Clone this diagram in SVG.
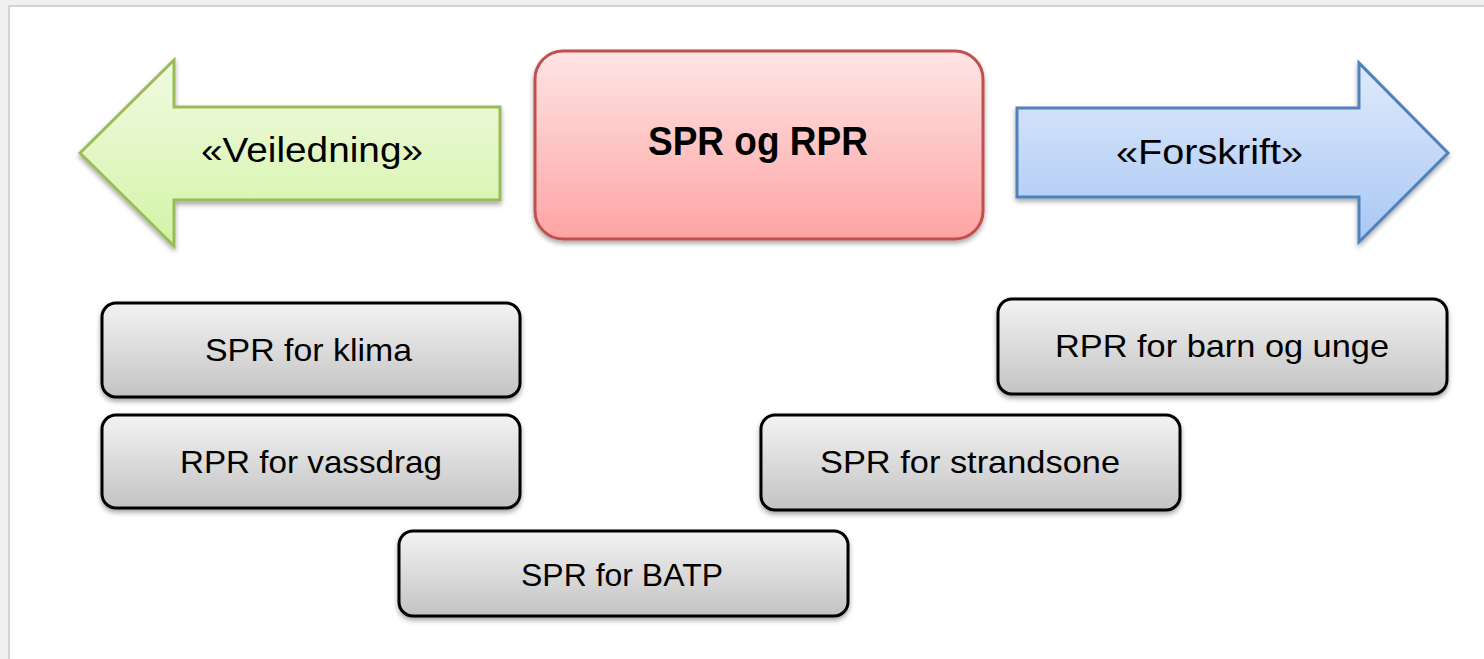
<svg xmlns="http://www.w3.org/2000/svg" width="1484" height="659" viewBox="0 0 1484 659">
  <defs>
    <linearGradient id="gGreen" x1="0" y1="0" x2="0" y2="1">
      <stop offset="0" stop-color="#f1fbe2"/>
      <stop offset="1" stop-color="#d3f3a6"/>
    </linearGradient>
    <linearGradient id="gBlue" x1="0" y1="0" x2="0" y2="1">
      <stop offset="0" stop-color="#dfeafb"/>
      <stop offset="1" stop-color="#a9c7f4"/>
    </linearGradient>
    <linearGradient id="gRed" x1="0" y1="0" x2="0" y2="1">
      <stop offset="0" stop-color="#fee5e5"/>
      <stop offset="1" stop-color="#fea4a3"/>
    </linearGradient>
    <linearGradient id="gGrey" x1="0" y1="0" x2="0" y2="1">
      <stop offset="0" stop-color="#f3f3f3"/>
      <stop offset="1" stop-color="#c3c3c3"/>
    </linearGradient>
    <filter id="shadow" x="-10%" y="-10%" width="120%" height="130%">
      <feDropShadow dx="0" dy="3" stdDeviation="2.5" flood-color="#000" flood-opacity="0.35"/>
    </filter>
  </defs>
  <style>
    .lbl { font-family: "Liberation Sans", Arial, sans-serif; fill: #000; text-anchor: middle; }
    .box { fill: url(#gGrey); stroke: #000; stroke-width: 3; filter: url(#shadow); }
    .small { font-size: 32px; }
    .arrowtxt { font-size: 35px; }
  </style>

  <rect x="0" y="0" width="1484" height="659" fill="#f0f0f0"/>
  <rect x="9" y="6" width="1480" height="660" fill="#ffffff" stroke="#d2d2d2" stroke-width="2"/>

  <g id="connectors"/>

  <g id="veiledning">
    <path d="M80,153 L174,60 L174,107 L500,107 L500,200 L174,200 L174,246 Z" fill="url(#gGreen)" stroke="#9bbb59" stroke-width="3" stroke-linejoin="miter" filter="url(#shadow)"/>
    <text class="lbl arrowtxt" x="312" y="162" textLength="222" lengthAdjust="spacingAndGlyphs">«Veiledning»</text>
  </g>

  <g id="spr-og-rpr">
    <rect x="535" y="51" width="448" height="188" rx="28" ry="28" fill="url(#gRed)" stroke="#c0504d" stroke-width="3" filter="url(#shadow)"/>
    <text class="lbl" x="758" y="155" font-size="40" font-weight="bold" textLength="220" lengthAdjust="spacingAndGlyphs">SPR og RPR</text>
  </g>

  <g id="forskrift">
    <path d="M1017,108 L1359,108 L1359,63 L1448,153 L1359,242 L1359,197 L1017,197 Z" fill="url(#gBlue)" stroke="#4f81bd" stroke-width="3" filter="url(#shadow)"/>
    <text class="lbl arrowtxt" x="1209.5" y="164" textLength="187" lengthAdjust="spacingAndGlyphs">«Forskrift»</text>
  </g>

  <g id="spr-klima">
    <rect class="box" x="102" y="303" width="418" height="94" rx="14" ry="14"/>
    <text class="lbl small" x="308.5" y="361" textLength="207" lengthAdjust="spacingAndGlyphs">SPR for klima</text>
  </g>

  <g id="rpr-vassdrag">
    <rect class="box" x="102" y="415" width="418" height="93" rx="14" ry="14"/>
    <text class="lbl small" x="311" y="473" textLength="262" lengthAdjust="spacingAndGlyphs">RPR for vassdrag</text>
  </g>

  <g id="spr-batp">
    <rect class="box" x="399" y="531" width="449" height="85" rx="14" ry="14"/>
    <text class="lbl small" x="622" y="586" textLength="202" lengthAdjust="spacingAndGlyphs">SPR for BATP</text>
  </g>

  <g id="spr-strandsone">
    <rect class="box" x="761" y="415" width="419" height="95" rx="14" ry="14"/>
    <text class="lbl small" x="970" y="473" textLength="300" lengthAdjust="spacingAndGlyphs">SPR for strandsone</text>
  </g>

  <g id="rpr-barn">
    <rect class="box" x="998" y="299" width="449" height="95" rx="14" ry="14"/>
    <text class="lbl small" x="1222" y="357" textLength="334" lengthAdjust="spacingAndGlyphs">RPR for barn og unge</text>
  </g>
</svg>
